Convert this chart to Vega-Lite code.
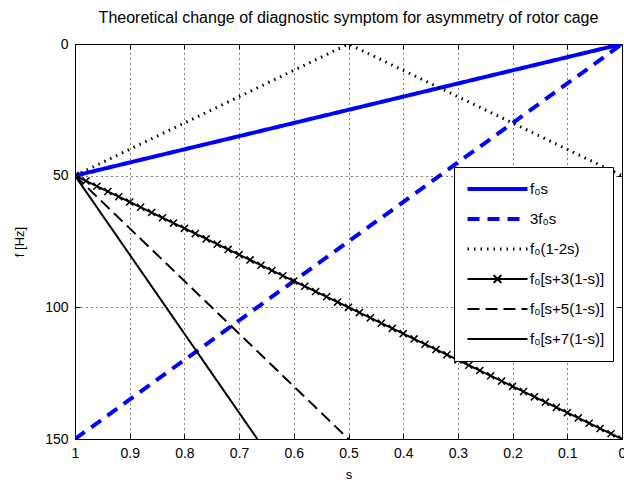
{
  "$schema": "https://vega.github.io/schema/vega-lite/v6.json",
  "autosize": {"type": "none"},
  "padding": {"left": 75, "top": 44, "right": 2, "bottom": 41},
  "width": 547,
  "height": 395,
  "background": "white",
  "title": {
    "text": "Theoretical change of diagnostic symptom for asymmetry of rotor cage",
    "fontSize": 16,
    "fontWeight": "normal",
    "font": "Liberation Sans",
    "color": "black",
    "anchor": "middle",
    "offset": 11
  },
  "data": {
    "values": [
      {"k": "f₀s", "s": 1, "f": 50},
      {"k": "f₀s", "s": 0, "f": 0},
      {"k": "3f₀s", "s": 1, "f": 150},
      {"k": "3f₀s", "s": 0, "f": 0},
      {"k": "f₀(1-2s)", "s": 1, "f": 50},
      {"k": "f₀(1-2s)", "s": 0.5, "f": 0},
      {"k": "f₀(1-2s)", "s": 0, "f": 50},
      {"k": "f₀[s+3(1-s)]", "s": 1, "f": 50},
      {"k": "f₀[s+3(1-s)]", "s": 0.98, "f": 52},
      {"k": "f₀[s+3(1-s)]", "s": 0.96, "f": 54},
      {"k": "f₀[s+3(1-s)]", "s": 0.94, "f": 56},
      {"k": "f₀[s+3(1-s)]", "s": 0.92, "f": 58},
      {"k": "f₀[s+3(1-s)]", "s": 0.9, "f": 60},
      {"k": "f₀[s+3(1-s)]", "s": 0.88, "f": 62},
      {"k": "f₀[s+3(1-s)]", "s": 0.86, "f": 64},
      {"k": "f₀[s+3(1-s)]", "s": 0.84, "f": 66},
      {"k": "f₀[s+3(1-s)]", "s": 0.82, "f": 68},
      {"k": "f₀[s+3(1-s)]", "s": 0.8, "f": 70},
      {"k": "f₀[s+3(1-s)]", "s": 0.78, "f": 72},
      {"k": "f₀[s+3(1-s)]", "s": 0.76, "f": 74},
      {"k": "f₀[s+3(1-s)]", "s": 0.74, "f": 76},
      {"k": "f₀[s+3(1-s)]", "s": 0.72, "f": 78},
      {"k": "f₀[s+3(1-s)]", "s": 0.7, "f": 80},
      {"k": "f₀[s+3(1-s)]", "s": 0.68, "f": 82},
      {"k": "f₀[s+3(1-s)]", "s": 0.66, "f": 84},
      {"k": "f₀[s+3(1-s)]", "s": 0.64, "f": 86},
      {"k": "f₀[s+3(1-s)]", "s": 0.62, "f": 88},
      {"k": "f₀[s+3(1-s)]", "s": 0.6, "f": 90},
      {"k": "f₀[s+3(1-s)]", "s": 0.58, "f": 92},
      {"k": "f₀[s+3(1-s)]", "s": 0.56, "f": 94},
      {"k": "f₀[s+3(1-s)]", "s": 0.54, "f": 96},
      {"k": "f₀[s+3(1-s)]", "s": 0.52, "f": 98},
      {"k": "f₀[s+3(1-s)]", "s": 0.5, "f": 100},
      {"k": "f₀[s+3(1-s)]", "s": 0.48, "f": 102},
      {"k": "f₀[s+3(1-s)]", "s": 0.46, "f": 104},
      {"k": "f₀[s+3(1-s)]", "s": 0.44, "f": 106},
      {"k": "f₀[s+3(1-s)]", "s": 0.42, "f": 108},
      {"k": "f₀[s+3(1-s)]", "s": 0.4, "f": 110},
      {"k": "f₀[s+3(1-s)]", "s": 0.38, "f": 112},
      {"k": "f₀[s+3(1-s)]", "s": 0.36, "f": 114},
      {"k": "f₀[s+3(1-s)]", "s": 0.34, "f": 116},
      {"k": "f₀[s+3(1-s)]", "s": 0.32, "f": 118},
      {"k": "f₀[s+3(1-s)]", "s": 0.3, "f": 120},
      {"k": "f₀[s+3(1-s)]", "s": 0.28, "f": 122},
      {"k": "f₀[s+3(1-s)]", "s": 0.26, "f": 124},
      {"k": "f₀[s+3(1-s)]", "s": 0.24, "f": 126},
      {"k": "f₀[s+3(1-s)]", "s": 0.22, "f": 128},
      {"k": "f₀[s+3(1-s)]", "s": 0.2, "f": 130},
      {"k": "f₀[s+3(1-s)]", "s": 0.18, "f": 132},
      {"k": "f₀[s+3(1-s)]", "s": 0.16, "f": 134},
      {"k": "f₀[s+3(1-s)]", "s": 0.14, "f": 136},
      {"k": "f₀[s+3(1-s)]", "s": 0.12, "f": 138},
      {"k": "f₀[s+3(1-s)]", "s": 0.1, "f": 140},
      {"k": "f₀[s+3(1-s)]", "s": 0.08, "f": 142},
      {"k": "f₀[s+3(1-s)]", "s": 0.06, "f": 144},
      {"k": "f₀[s+3(1-s)]", "s": 0.04, "f": 146},
      {"k": "f₀[s+3(1-s)]", "s": 0.02, "f": 148},
      {"k": "f₀[s+3(1-s)]", "s": 0, "f": 150},
      {"k": "f₀[s+5(1-s)]", "s": 1, "f": 50},
      {"k": "f₀[s+5(1-s)]", "s": 0.5, "f": 150},
      {"k": "f₀[s+7(1-s)]", "s": 1, "f": 50},
      {"k": "f₀[s+7(1-s)]", "s": 0.6667, "f": 150}
    ]
  },
  "layer": [
    {
      "mark": {"type": "line", "clip": true, "strokeCap": "butt"},
      "encoding": {
        "x": {
          "field": "s",
          "type": "quantitative",
          "scale": {"domain": [0, 1], "reverse": true, "nice": false, "zero": false},
          "axis": {
            "orient": "bottom",
            "title": "s",
            "values": [0, 0.1, 0.2, 0.3, 0.4, 0.5, 0.6, 0.7, 0.8, 0.9, 1],
            "format": "~g",
            "grid": true,
            "labelFlush": false,
            "labelOverlap": false,
            "tickSize": -5,
            "labelPadding": 12,
            "titlePadding": 8
          }
        },
        "y": {
          "field": "f",
          "type": "quantitative",
          "scale": {"domain": [0, 150], "reverse": true, "nice": false, "zero": false},
          "axis": {
            "orient": "left",
            "title": "f [Hz]",
            "values": [0, 50, 100, 150],
            "grid": true,
            "labelFlush": false,
            "labelOverlap": false,
            "tickSize": -5,
            "labelPadding": 12,
            "titlePadding": 18
          }
        },
        "color": {
          "field": "k",
          "type": "nominal",
          "scale": {
            "domain": ["f₀s", "3f₀s", "f₀(1-2s)", "f₀[s+3(1-s)]", "f₀[s+5(1-s)]", "f₀[s+7(1-s)]"],
            "range": ["#0000ff", "#0000ff", "#000000", "#000000", "#000000", "#000000"]
          },
          "legend": {
            "title": null,
            "orient": "none",
            "legendX": 379,
            "legendY": 123,
            "symbolType": "stroke",
            "symbolSize": 3600,
            "clipHeight": 28,
            "rowPadding": 2,
            "padding": 8,
            "symbolOffset": 28,
            "labelOffset": 25,
            "labelFontSize": 15,
            "labelFont": "Liberation Sans",
            "labelColor": "black",
            "labelLimit": 0,
            "fillColor": "white",
            "strokeColor": "black",
            "encode": {
              "symbols": {
                "update": {
                  "shape": {"signal": "datum.value === 'f₀[s+3(1-s)]' ? 'M-1,0L1,0M-0.13,-0.13L0.13,0.13M-0.13,0.13L0.13,-0.13' : 'stroke'"},
                  "strokeWidth": {"signal": "datum.value === 'f₀s' || datum.value === '3f₀s' ? 4 : (datum.value === 'f₀(1-2s)' ? 3 : 2)"}
                }
              }
            }
          }
        },
        "strokeDash": {
          "field": "k",
          "type": "nominal",
          "scale": {
            "domain": ["f₀s", "3f₀s", "f₀(1-2s)", "f₀[s+3(1-s)]", "f₀[s+5(1-s)]", "f₀[s+7(1-s)]"],
            "range": [[1, 0], [12, 8], [1.5, 5], [1, 0], [12, 6], [1, 0]]
          }
        },
        "strokeWidth": {
          "condition": [
            {"test": "datum.k === 'f₀s' || datum.k === '3f₀s'", "value": 4},
            {"test": "datum.k === 'f₀(1-2s)'", "value": 3}
          ],
          "value": 2
        }
      }
    },
    {
      "transform": [{"filter": "datum.k === 'f₀[s+3(1-s)]'"}],
      "mark": {
        "type": "point",
        "shape": "M-1,-1L1,1M-1,1L1,-1",
        "size": 50,
        "filled": false,
        "color": "black",
        "strokeWidth": 1.5,
        "opacity": 1,
        "clip": true
      },
      "encoding": {
        "x": {
          "field": "s",
          "type": "quantitative",
          "axis": {
            "orient": "top",
            "title": null,
            "values": [0, 0.1, 0.2, 0.3, 0.4, 0.5, 0.6, 0.7, 0.8, 0.9, 1],
            "labels": false,
            "grid": false,
            "tickSize": -5
          }
        },
        "y": {
          "field": "f",
          "type": "quantitative",
          "axis": {
            "orient": "right",
            "title": null,
            "values": [0, 50, 100, 150],
            "labels": false,
            "grid": false,
            "tickSize": -5
          }
        }
      }
    }
  ],
  "resolve": {"axis": {"x": "independent", "y": "independent"}},
  "config": {
    "font": "Liberation Sans",
    "view": {"stroke": "black", "strokeWidth": 1},
    "axis": {
      "domain": false,
      "tickColor": "black",
      "tickWidth": 1,
      "gridColor": "black",
      "gridOpacity": 1,
      "gridDash": [1, 4],
      "gridWidth": 1,
      "labelFont": "Liberation Sans",
      "labelFontSize": 14,
      "labelColor": "black",
      "titleFont": "Liberation Sans",
      "titleFontSize": 13,
      "titleFontWeight": "normal",
      "titleColor": "black"
    }
  }
}
